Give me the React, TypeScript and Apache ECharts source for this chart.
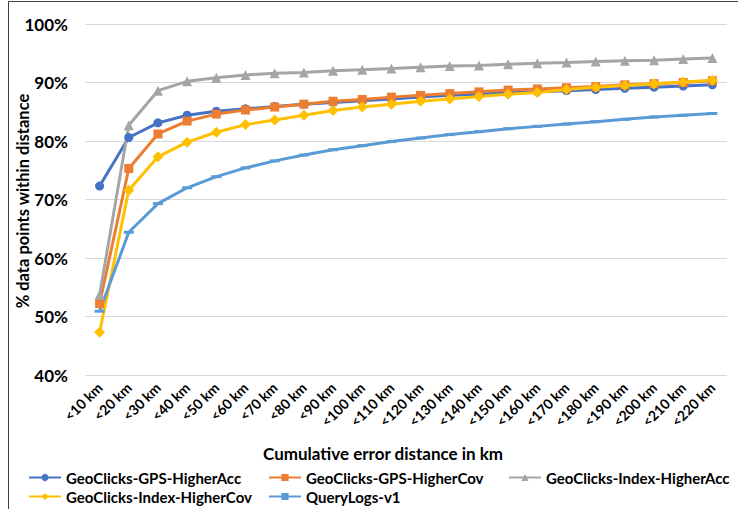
import React, { useEffect, useRef } from "react";
import * as echarts from "echarts";

const categories = [
  "<10 km", "<20 km", "<30 km", "<40 km", "<50 km", "<60 km", "<70 km", "<80 km",
  "<90 km", "<100 km", "<110 km", "<120 km", "<130 km", "<140 km", "<150 km",
  "<160 km", "<170 km", "<180 km", "<190 km", "<200 km", "<210 km", "<220 km",
];

const gpsHigherAcc = [
  72.3, 80.6, 83.1, 84.4, 85.1, 85.5, 85.9, 86.3, 86.6, 86.9, 87.2, 87.5, 87.8,
  88.0, 88.3, 88.4, 88.6, 88.8, 89.0, 89.2, 89.4, 89.6,
];
const gpsHigherCov = [
  52.2, 75.3, 81.2, 83.4, 84.6, 85.3, 85.8, 86.3, 86.8, 87.1, 87.5, 87.8, 88.1,
  88.4, 88.7, 88.9, 89.1, 89.3, 89.6, 89.8, 90.0, 90.3,
];
const indexHigherAcc = [
  53.7, 82.7, 88.6, 90.2, 90.8, 91.3, 91.6, 91.7, 92.0, 92.2, 92.4, 92.6, 92.8,
  92.9, 93.1, 93.3, 93.4, 93.6, 93.7, 93.8, 94.0, 94.2,
];
const indexHigherCov = [
  47.3, 71.6, 77.3, 79.8, 81.5, 82.8, 83.6, 84.4, 85.2, 85.8, 86.3, 86.8, 87.2,
  87.6, 88.0, 88.3, 88.8, 89.2, 89.5, 89.8, 90.1, 90.4,
];
const queryLogs = [
  50.9, 64.4, 69.3, 72.0, 73.9, 75.4, 76.6, 77.6, 78.5, 79.2, 79.9, 80.5, 81.1,
  81.6, 82.1, 82.5, 82.9, 83.3, 83.7, 84.1, 84.4, 84.7,
];

const yTicks = { min: 40, max: 100, interval: 10 };

const FONT = "Lato, 'Open Sans', sans-serif";

export default function App() {
  const ref = useRef<HTMLDivElement>(null);

  useEffect(() => {
    if (!ref.current) return;
    const chart = echarts.init(ref.current, undefined, { renderer: "svg" });

    const lineSeries = (
      name: string,
      data: number[],
      color: string,
      symbol: string,
      symbolSize: number | number[]
    ) => ({
      name,
      type: "line",
      data,
      symbol,
      symbolSize,
      showAllSymbol: true,
      itemStyle: { color },
      lineStyle: { color, width: 3 },
      emphasis: { disabled: true },
    });

    const legendItem = (name: string, left: number, top: number) => ({
      data: [name],
      left,
      top,
      padding: 0,
      itemWidth: 32,
      itemHeight: 9,
      itemGap: 0,
      textStyle: { fontFamily: FONT, fontWeight: "bold", fontSize: 15, color: "#000" },
    });

    chart.setOption({
      animation: false,
      backgroundColor: "#fff",
      grid: { left: 85, right: 11, top: 24, bottom: 134 },
      xAxis: {
        type: "category",
        data: categories,
        boundaryGap: true,
        axisLine: { show: false },
        axisTick: { show: false },
        axisLabel: {
          rotate: 45,
          interval: 0,
          margin: 10,
          fontFamily: FONT,
          fontWeight: "bold",
          fontSize: 14,
          color: "#000",
        },
      },
      yAxis: {
        type: "value",
        min: yTicks.min,
        max: yTicks.max,
        interval: yTicks.interval,
        axisLine: { show: false },
        axisTick: { show: false },
        splitLine: { lineStyle: { color: "#d9d9d9", width: 1 } },
        axisLabel: {
          formatter: "{value}%",
          margin: 17,
          fontFamily: FONT,
          fontWeight: "bold",
          fontSize: 17,
          color: "#000",
        },
      },
      legend: [
        legendItem("GeoClicks-GPS-HigherAcc", 28, 470),
        legendItem("GeoClicks-GPS-HigherCov", 268, 470),
        legendItem("GeoClicks-Index-HigherAcc", 508, 470),
        legendItem("GeoClicks-Index-HigherCov", 28, 489),
        legendItem("QueryLogs-v1", 268, 489),
      ],
      graphic: [
        {
          type: "text",
          left: 263,
          top: 445,
          style: {
            text: "Cumulative error distance in km",
            fontFamily: FONT,
            fontWeight: "bold",
            fontSize: 17,
            fill: "#000",
          },
        },
        {
          // vertical axis title, reading bottom to top
          type: "text",
          x: 23,
          y: 201,
          rotation: Math.PI / 2,
          style: {
            text: "% data points within distance",
            fontFamily: FONT,
            fontWeight: "bold",
            fontSize: 16.5,
            fill: "#000",
            align: "center",
            verticalAlign: "middle",
          },
        },
        {
          type: "rect",
          shape: { x: 8.5, y: 1.5, width: 760, height: 560 },
          style: { fill: "none", stroke: "#404040", lineWidth: 1 },
          silent: true,
        },
      ],
      series: [
        lineSeries("GeoClicks-GPS-HigherAcc", gpsHigherAcc, "#4472C4", "circle", 9),
        lineSeries("GeoClicks-GPS-HigherCov", gpsHigherCov, "#ED7D31", "rect", 9),
        lineSeries("GeoClicks-Index-HigherAcc", indexHigherAcc, "#A5A5A5", "triangle", 10),
        lineSeries("GeoClicks-Index-HigherCov", indexHigherCov, "#FFC000", "diamond", 11),
        lineSeries("QueryLogs-v1", queryLogs, "#5B9BD5", "rect", [10, 3]),
      ],
    });

    return () => chart.dispose();
  }, []);

  return (
    <div
      ref={ref}
      style={{ position: "fixed", left: 0, top: 0, width: 738, height: 509 }}
    />
  );
}
